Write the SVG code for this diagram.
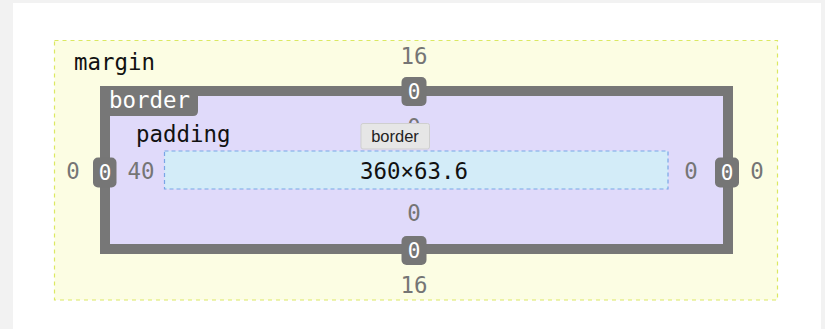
<svg xmlns="http://www.w3.org/2000/svg" width="825" height="329" viewBox="0 0 825 329">
<style>
  .mono { font-family: "DejaVu Sans Mono", "Liberation Mono", monospace; font-size: 22.4px; }
  .lbl { fill: #111; }
  .num { fill: #757575; text-anchor: middle; }
  .badge { fill: #767676; }
  .btxt { fill: #ffffff; text-anchor: middle; font-size: 21px; }
</style>
<rect x="0" y="0" width="825" height="329" fill="#f2f2f2"/>
<rect x="13" y="3" width="808" height="326" fill="#ffffff"/>

<g id="margin">
  <rect x="54.5" y="40.5" width="723" height="259.5" fill="#fcfde3" stroke="#dbe862" stroke-width="1.2" stroke-dasharray="4 4"/>
  <text class="mono lbl" x="74" y="70">margin</text>
  <text class="mono num" x="414" y="64">16</text>
  <text class="mono num" x="414" y="293">16</text>
  <text class="mono num" x="73" y="179">0</text>
  <text class="mono num" x="757" y="179">0</text>
</g>

<g id="border">
  <rect x="105" y="91" width="623" height="158" fill="#e0dafa" stroke="#777777" stroke-width="10"/>
  <path d="M100 86 H198 V111 Q198 116 193 116 H100 Z" fill="#777777"/>
  <text class="mono" x="109" y="108" fill="#ffffff">border</text>
  <rect class="badge" x="401.5" y="77" width="25" height="29" rx="5"/>
  <text class="mono btxt" x="414" y="99">0</text>
  <rect class="badge" x="401.5" y="236" width="25" height="29" rx="5"/>
  <text class="mono btxt" x="414" y="258">0</text>
  <rect class="badge" x="93" y="157.5" width="23.5" height="30" rx="5"/>
  <text class="mono btxt" x="105" y="180">0</text>
  <rect class="badge" x="715" y="157.5" width="24" height="30" rx="5"/>
  <text class="mono btxt" x="727" y="180">0</text>
</g>

<g id="padding">
  <text class="mono lbl" x="136" y="142">padding</text>
  <text class="mono num" x="414" y="135">0</text>
  <text class="mono num" x="414" y="221">0</text>
  <text class="mono num" x="141" y="179">40</text>
  <text class="mono num" x="691" y="179">0</text>
</g>

<g id="content">
  <rect x="164.5" y="151" width="503.5" height="38" fill="#d3ecf8" stroke="#79a6e6" stroke-width="1.2" stroke-dasharray="4 3"/>
  <text class="mono" x="414" y="179" fill="#111" text-anchor="middle">360×63.6</text>
</g>

<g id="tooltip">
  <rect x="361" y="123.5" width="68.5" height="25.5" rx="2" fill="#e6e6e6" stroke="#cfcfcf" stroke-width="1"/>
  <text x="395" y="142" font-family="'Liberation Sans', Arial, sans-serif" font-size="16.5" fill="#222" text-anchor="middle">border</text>
</g>
</svg>
